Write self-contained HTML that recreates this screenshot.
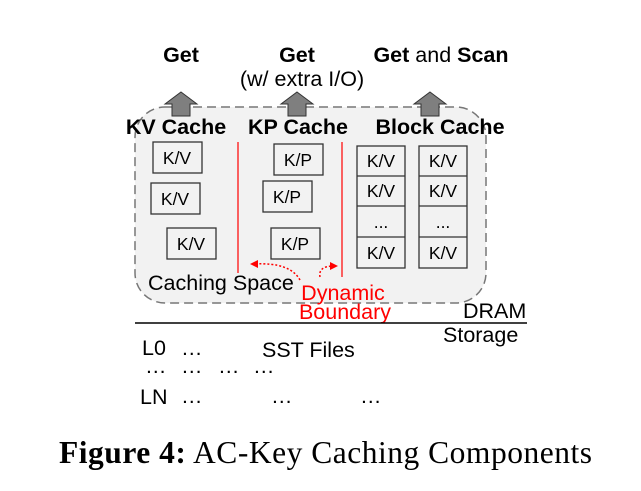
<!DOCTYPE html>
<html><head><style>body{margin:0;background:#fff}svg{display:block}</style></head><body>
<svg width="641" height="491" viewBox="0 0 641 491" xmlns="http://www.w3.org/2000/svg" font-family="Liberation Sans, Arial, sans-serif">
<rect x="135" y="107" width="351" height="196" rx="30" fill="#f2f2f2" stroke="#777" stroke-width="1.5" stroke-dasharray="9,5"/>
<g fill="#7f7f7f" stroke="#333" stroke-width="1">
<polygon points="181,92 197,104 190,104 190,116 172,116 172,104 165,104"/>
<polygon points="297,92 313,104 306,104 306,116 288,116 288,104 281,104"/>
<polygon points="430,92 446,104 439,104 439,116 421,116 421,104 414,104"/>
</g>
<g font-weight="bold" font-size="21.5" text-anchor="middle" fill="#000">
<text x="181" y="62">Get</text>
<text x="297" y="62">Get</text>
<text x="441" y="62">Get <tspan font-weight="normal">and</tspan> Scan</text>
<text x="176" y="134">KV Cache</text>
<text x="298" y="134">KP Cache</text>
<text x="440" y="134">Block Cache</text>
</g>
<text x="302" y="86" font-size="21.5" text-anchor="middle">(w/ extra I/O)</text>
<g stroke="#f00" stroke-width="1.2"><line x1="238" y1="142" x2="238" y2="273"/><line x1="342" y1="142" x2="342" y2="277"/></g>
<g fill="none" stroke="#333" stroke-width="1.3">
<rect x="153" y="142" width="49" height="31"/><rect x="151" y="183" width="49" height="31"/><rect x="167" y="228" width="49" height="31"/>
<rect x="274" y="144" width="49" height="31"/><rect x="263" y="181" width="49" height="31"/><rect x="271" y="228" width="49" height="31"/>
<rect x="357" y="146" width="48" height="122"/><line x1="357" y1="176" x2="405" y2="176"/><line x1="357" y1="206" x2="405" y2="206"/><line x1="357" y1="237" x2="405" y2="237"/>
<rect x="419" y="146" width="48" height="122"/><line x1="419" y1="176" x2="467" y2="176"/><line x1="419" y1="206" x2="467" y2="206"/><line x1="419" y1="237" x2="467" y2="237"/>
</g>
<g font-size="17.5" text-anchor="middle">
<text x="177" y="164">K/V</text><text x="175" y="205">K/V</text><text x="191" y="250">K/V</text>
<text x="298" y="166">K/P</text><text x="287" y="203">K/P</text><text x="295" y="250">K/P</text>
<text x="381" y="167">K/V</text><text x="381" y="197">K/V</text><text x="381" y="228">...</text><text x="381" y="259">K/V</text>
<text x="443" y="167">K/V</text><text x="443" y="197">K/V</text><text x="443" y="228">...</text><text x="443" y="259">K/V</text>
</g>
<g fill="none" stroke="#f00" stroke-width="1.5" stroke-dasharray="2,2">
<path d="M300,280 Q290,262 254,264"/><path d="M320,277 Q318,266 334,266"/>
</g>
<polygon points="250,264 258,260 258,268" fill="#f00"/>
<polygon points="338,266 330,262 330,270" fill="#f00"/>
<text x="148" y="290" font-size="21.5">Caching Space</text>
<text x="343" y="300" font-size="21.5" fill="#f00" text-anchor="middle">Dynamic</text>
<text x="345" y="319" font-size="21.5" fill="#f00" text-anchor="middle">Boundary</text>
<text x="463" y="318" font-size="21.5">DRAM</text>
<line x1="135" y1="323" x2="527" y2="323" stroke="#000" stroke-width="1.5"/>
<text x="443" y="342" font-size="21.5">Storage</text>
<g font-size="21.5">
<text x="142" y="355">L0</text><text x="181" y="355">…</text><text x="262" y="357">SST Files</text>
<text x="145" y="373">…</text><text x="181" y="373">…</text><text x="218" y="373">…</text><text x="253" y="373">…</text>
<text x="140" y="404">LN</text><text x="181" y="403">…</text><text x="271" y="403">…</text><text x="360" y="403">…</text>
</g>
<text x="59" y="463" font-family="Liberation Serif, serif" font-size="31.5" textLength="533" lengthAdjust="spacing"><tspan font-weight="bold">Figure 4:</tspan> AC-Key Caching Components</text>
</svg>
</body></html>
